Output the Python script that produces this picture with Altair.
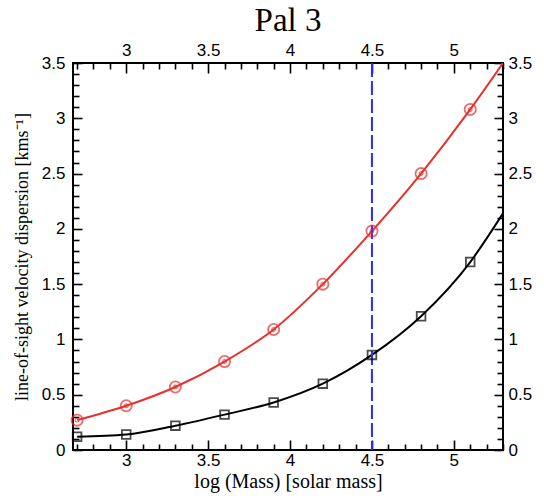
import altair as alt
import pandas as pd

# ---- data ----
log_mass = [2.7, 3.0, 3.3, 3.6, 3.9, 4.2, 4.5, 4.8, 5.1]
sigma_red = [0.27, 0.40, 0.57, 0.80, 1.09, 1.50, 1.98, 2.50, 3.08]
sigma_black = [0.12, 0.14, 0.22, 0.32, 0.43, 0.60, 0.86, 1.21, 1.70]
end_x = [5.3]
end_red = [3.50]
end_black = [2.14]
ref_mass = [4.5]

# tick positions (major ones carry labels)
x_ticks = [2.7, 2.8, 2.9, 3.0, 3.1, 3.2, 3.3, 3.4, 3.5, 3.6, 3.7, 3.8, 3.9,
           4.0, 4.1, 4.2, 4.3, 4.4, 4.5, 4.6, 4.7, 4.8, 4.9, 5.0, 5.1, 5.2, 5.3]
y_ticks = [0.0, 0.1, 0.2, 0.3, 0.4, 0.5, 0.6, 0.7, 0.8, 0.9, 1.0, 1.1, 1.2,
           1.3, 1.4, 1.5, 1.6, 1.7, 1.8, 1.9, 2.0, 2.1, 2.2, 2.3, 2.4, 2.5,
           2.6, 2.7, 2.8, 2.9, 3.0, 3.1, 3.2, 3.3, 3.4, 3.5]

W, H = 430, 387
XDOM = [2.675, 5.3]
YDOM = [0, 3.5]
RED = "#e8302c"
LABEL_FONT = "Liberation Sans"
LABEL_SIZE = 17
SERIF = "Liberation Serif"

MAJOR = "abs(datum.value * 2 - round(datum.value * 2)) < 0.001"
LABEL_EXPR = MAJOR + " ? format(datum.value, '~g') : ''"

xs = alt.Scale(domain=XDOM, nice=False, zero=False)
ys = alt.Scale(domain=YDOM, nice=False, zero=False)


def make_axis(orient, major_len, minor_len, pad, title=None, **kw):
    args = dict(
        orient=orient, values=x_ticks if orient in ("top", "bottom") else y_ticks,
        ticks=True, domain=False, grid=False,
        tickColor="black", tickWidth=1.6,
        tickSize={"condition": {"test": MAJOR, "value": -major_len}, "value": -minor_len},
        labelExpr=LABEL_EXPR, labelFont=LABEL_FONT, labelFontSize=LABEL_SIZE,
        labelColor="black", labelPadding=pad, labelFlush=False, labelOverlap=False,
        labelBound=False,
    )
    if title is None:
        args["title"] = None
    else:
        args.update(title=title, titleFont=SERIF, titleFontWeight="normal", titleColor="black")
    args.update(kw)
    return alt.Axis(**args)


ax_bottom = make_axis("bottom", 10, 6, 12, "log (Mass) [solar mass]",
                      titleFontSize=20, titleY=37, titleBaseline="alphabetic")
ax_left = make_axis("left", 9, 6, 17, "line-of-sight velocity dispersion [kms⁻¹]",
                    titleFontSize=18, titlePadding=10)
ax_top = make_axis("top", 10, 6, 18, labelBaseline="alphabetic")
ax_right = make_axis("right", 9, 6, 14)

df_pts = pd.DataFrame({"m": log_mass, "red": sigma_red, "black": sigma_black})
df_line = pd.DataFrame({"m": log_mass + end_x,
                        "red": sigma_red + end_red,
                        "black": sigma_black + end_black})

base = alt.Chart(df_line)
red_line = base.mark_line(color=RED, strokeWidth=2, interpolate="monotone", clip=True).encode(
    x=alt.X("m:Q", scale=xs, axis=ax_bottom), y=alt.Y("red:Q", scale=ys, axis=ax_left))
black_line = base.mark_line(color="black", strokeWidth=2, interpolate="monotone", clip=True).encode(
    x=alt.X("m:Q", scale=xs, axis=None), y=alt.Y("black:Q", scale=ys, axis=None))

pts = alt.Chart(df_pts)
red_pts = pts.mark_point(shape="circle", size=125, filled=False, color=RED, strokeWidth=1.8).encode(
    x=alt.X("m:Q", scale=xs, axis=None), y=alt.Y("red:Q", scale=ys, axis=None))
red_inner = pts.mark_point(shape="circle", size=14, filled=False, color=RED, strokeWidth=1.2).encode(
    x=alt.X("m:Q", scale=xs, axis=ax_top), y=alt.Y("red:Q", scale=ys, axis=ax_right))
black_pts = pts.mark_point(shape="square", size=75, filled=False, color="black", strokeWidth=1.8).encode(
    x=alt.X("m:Q", scale=xs, axis=None), y=alt.Y("black:Q", scale=ys, axis=None))

vline = alt.Chart(pd.DataFrame({"m": ref_mass})).mark_rule(
    color="#2b2bff", strokeWidth=2, strokeDash=[14, 4]).encode(
    x=alt.X("m:Q", scale=xs, axis=None))

chart = alt.layer(
    red_line, black_line, vline, red_pts, red_inner, black_pts
).resolve_axis(x="independent", y="independent").properties(
    width=W, height=H,
    autosize="none",
    padding={"left": 73, "top": 63, "right": 41, "bottom": 46},
    title=alt.TitleParams("Pal 3", font=SERIF, fontSize=33, fontWeight="normal",
                          color="black", anchor="middle", offset=-1),
).configure_view(stroke="black", strokeWidth=2)

chart.save("out.html", embed_options={"renderer": "svg", "actions": False})
